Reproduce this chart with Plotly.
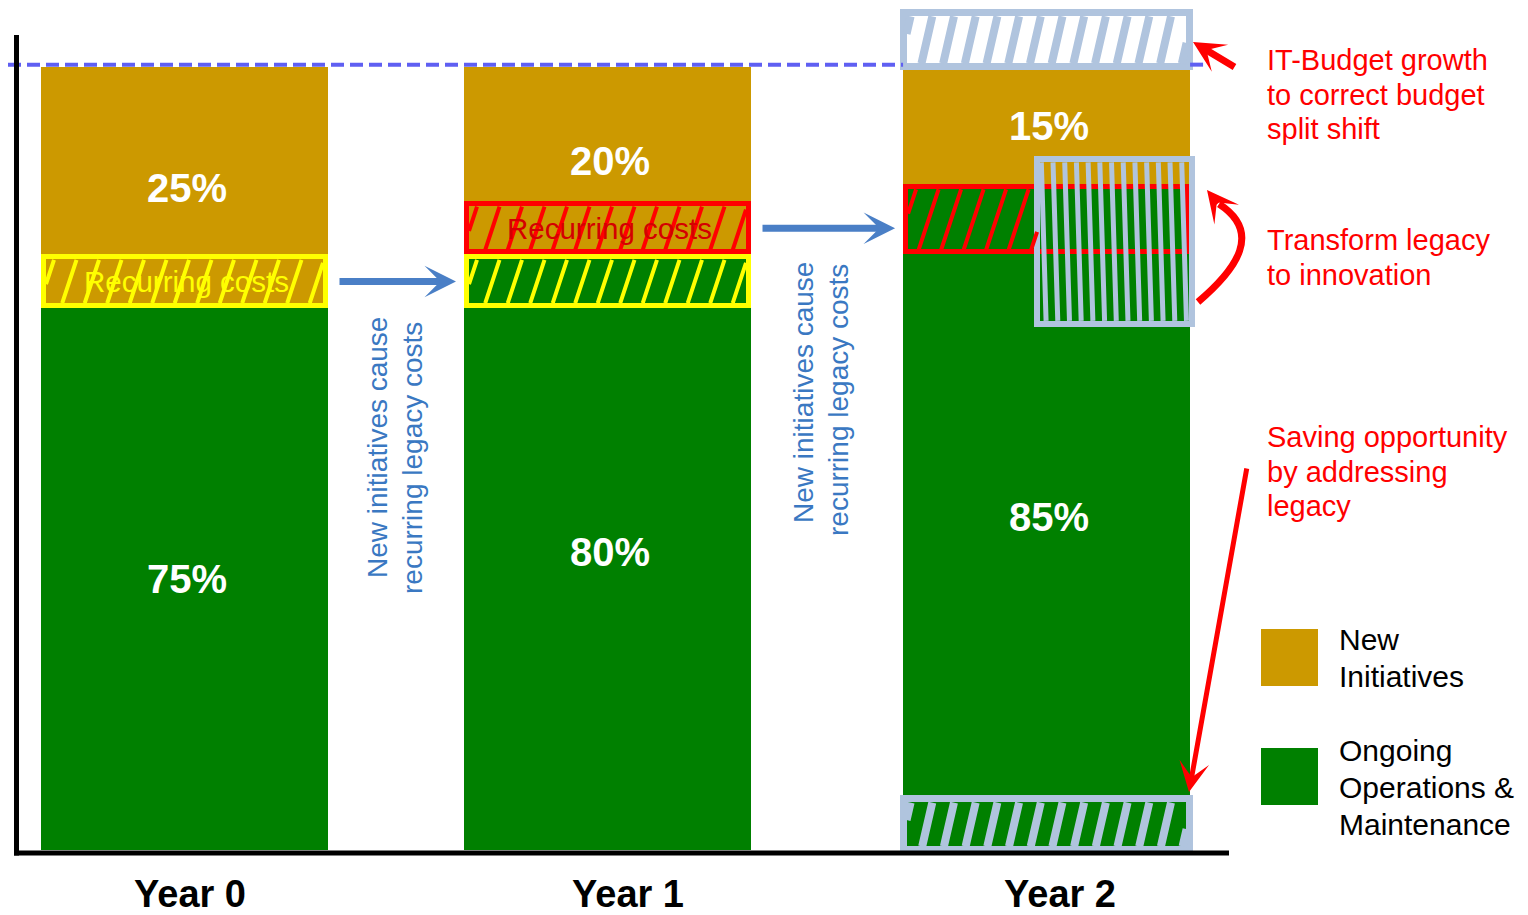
import plotly.graph_objects as go

# ---- data ----------------------------------------------------------------
years = ["Year 0", "Year 1", "Year 2"]
ops_share = [75, 80, 85]      # Ongoing Operations & Maintenance (%)
new_share = [25, 20, 15]      # New Initiatives (%)

# hatched "recurring costs" slices: bar index, bottom, top, budget part it sits in
slice_bar = [0, 1, 1, 2]
slice_low = [69.2, 69.2, 76.0, 76.0]
slice_high = [76.0, 76.0, 82.8, 85.0]
slice_part = ["new", "ops", "new", "ops"]
slice_label = ["Recurring costs", "", "Recurring costs", ""]

budget_growth = 6.9                  # extra budget on top of Year 2
legacy_saving = 6.5                  # saving at the bottom of Year 2
transform_low, transform_high = 67.2, 88.2   # legacy turned into innovation

# ---- styling / layout ----------------------------------------------------
W, H = 1528, 915
GOLD, GREEN = "#cc9900", "#008000"
RED, YELLOW = "#ff0000", "#ffff00"
STEEL = "#b0c4de"
BLUE_TXT, BLUE_ARROW = "#3a78c2", "#4a7fc6"
DASH_BLUE = "#5f5ff2"
FONT = "Liberation Sans, Arial, sans-serif"

X_ORIGIN, X_UNIT = 184.5, 423.0      # pixel of x=0, pixels per x unit
Y_ORIGIN, Y_UNIT = 850.0, 7.83       # pixel of y=0, pixels per y unit
bar_pos = [0.0, 1.0, 2.038]
BAR_W = 287 / X_UNIT
year_label_x = [0.013, 1.049, 2.07]

slice_edge = [YELLOW, YELLOW, RED, RED]
slice_text_color = [YELLOW, None, "#d40000", None]
SLICE_LW = 5
BOX_LW = 7
TRANSFORM_W = 155 / X_UNIT


def px_x(x):
    return X_ORIGIN + X_UNIT * x


def px_y(y):
    return Y_ORIGIN - Y_UNIT * y


def dx(p):
    return (p - X_ORIGIN) / X_UNIT


def dy(p):
    return (Y_ORIGIN - p) / Y_UNIT


def paper(xp, yp):
    return xp / W, 1 - yp / H


def stripes(x0, x1, y0, y1, spacing, slant, phase=0.0):
    """Hatch lines clipped to a data-space rectangle.
    spacing in pixels, slant = horizontal shift per pixel of height."""
    L, R = px_x(x0), px_x(x1)
    B, T = px_y(y0), px_y(y1)
    h = B - T
    s = slant * h
    parts = []
    xb = L - max(s, 0) + phase
    end = R - min(s, 0)
    while xb <= end:
        if s == 0:
            ta, tb = (0.0, 1.0) if L <= xb <= R else (1.0, 0.0)
        else:
            ta, tb = sorted(((L - xb) / s, (R - xb) / s))
            ta, tb = max(ta, 0.0), min(tb, 1.0)
        if tb - ta > 1e-3:
            xa, ya = xb + s * ta, B - h * ta
            xc, yc = xb + s * tb, B - h * tb
            parts.append(f"M{dx(xa):.5f},{dy(ya):.4f}L{dx(xc):.5f},{dy(yc):.4f}")
        xb += spacing
    return "".join(parts)


fig = go.Figure()
shapes = []
annotations = []

# ---- stacked budget bars -------------------------------------------------
fig.add_bar(x=bar_pos, y=ops_share, base=[0] * 3, width=BAR_W,
            marker=dict(color=GREEN, line=dict(width=0)),
            name="Ongoing Operations & Maintenance", showlegend=False)
fig.add_bar(x=bar_pos, y=new_share, base=ops_share, width=BAR_W,
            marker=dict(color=GOLD, line=dict(width=0)),
            name="New Initiatives", showlegend=False)

# ---- recurring-cost slices -----------------------------------------------
transform_left = bar_pos[2] + BAR_W / 2 + 2 / X_UNIT - TRANSFORM_W
for i, b in enumerate(slice_bar):
    fill = GOLD if slice_part[i] == "new" else GREEN
    lo, hi = slice_low[i], slice_high[i]
    ins_y = SLICE_LW / 2 / Y_UNIT
    ins_x = SLICE_LW / 2 / X_UNIT
    fig.add_bar(x=[bar_pos[b]], base=[lo + ins_y], y=[hi - lo - 2 * ins_y],
                width=BAR_W - 2 * ins_x,
                marker=dict(color=fill, line=dict(color=slice_edge[i], width=SLICE_LW)),
                showlegend=False, hoverinfo="skip")
    x0 = bar_pos[b] - BAR_W / 2 + 2 * ins_x
    x1 = bar_pos[b] + BAR_W / 2 - 2 * ins_x
    if b == 2:
        x1 = min(x1, transform_left)
    shapes.append(dict(type="path", xref="x", yref="y", layer="above",
                       path=stripes(x0, x1, lo + 2 * ins_y, hi - 2 * ins_y, 22.5, 0.33, 8),
                       line=dict(color=slice_edge[i], width=4)))
    if slice_label[i]:
        annotations.append(dict(x=bar_pos[b] + 2 / X_UNIT, y=(lo + hi) / 2, xref="x", yref="y",
                                text=slice_label[i], showarrow=False,
                                xanchor="center", yanchor="middle",
                                font=dict(family=FONT, size=29.5, color=slice_text_color[i])))

# ---- Year 2 scenario boxes -----------------------------------------------
box_in_y = BOX_LW / 2 / Y_UNIT
box_in_x = BOX_LW / 2 / X_UNIT
# budget growth on top
fig.add_bar(x=[bar_pos[2]], base=[100.0], y=[budget_growth], width=BAR_W - 1 / X_UNIT,
            marker=dict(color="white", line=dict(color=STEEL, width=BOX_LW)),
            showlegend=False, hoverinfo="skip")
# saving at the bottom
fig.add_bar(x=[bar_pos[2]], base=[0.0], y=[legacy_saving], width=BAR_W - 1 / X_UNIT,
            marker=dict(color=GREEN, line=dict(color=STEEL, width=BOX_LW)),
            showlegend=False, hoverinfo="skip")
# legacy transformed into innovation
fig.add_bar(x=[transform_left + TRANSFORM_W / 2], base=[transform_low],
            y=[transform_high - transform_low], width=TRANSFORM_W,
            marker=dict(color="rgba(0,0,0,0)", line=dict(color=STEEL, width=6)),
            showlegend=False, hoverinfo="skip")

gx0 = bar_pos[2] - BAR_W / 2 + box_in_x
gx1 = bar_pos[2] + BAR_W / 2 - box_in_x
shapes.append(dict(type="path", xref="x", yref="y", layer="above",
                   path=stripes(gx0, gx1, 100 + box_in_y, 100 + budget_growth - box_in_y, 21.7, 0.23, 4),
                   line=dict(color=STEEL, width=8)))
shapes.append(dict(type="path", xref="x", yref="y", layer="above",
                   path=stripes(gx0, gx1, box_in_y, legacy_saving - box_in_y, 21.7, 0.23, 4),
                   line=dict(color=STEEL, width=8)))
shapes.append(dict(type="path", xref="x", yref="y", layer="above",
                   path=stripes(transform_left + 3 / X_UNIT, transform_left + TRANSFORM_W - 3 / X_UNIT,
                                transform_low + 3 / Y_UNIT, transform_high - 3 / Y_UNIT, 11.7, -0.03, 6),
                   line=dict(color=STEEL, width=5)))

# ---- budget ceiling (dashed) ---------------------------------------------
for xa, xb in [(dx(8), gx0 - box_in_x), (gx1 + box_in_x, dx(1206))]:
    shapes.append(dict(type="line", xref="x", yref="y", layer="above",
                       x0=xa, x1=xb, y0=100.3, y1=100.3,
                       line=dict(color=DASH_BLUE, width=4, dash="13px,6px")))

# ---- axis lines ----------------------------------------------------------
shapes.append(dict(type="line", xref="x", yref="y", layer="above",
                   x0=dx(16.5), x1=dx(16.5), y0=dy(35), y1=dy(855.5),
                   line=dict(color="black", width=5)))
shapes.append(dict(type="line", xref="x", yref="y", layer="above",
                   x0=dx(14), x1=dx(1229), y0=dy(853), y1=dy(853),
                   line=dict(color="black", width=5)))

# ---- value labels --------------------------------------------------------
for b in range(3):
    gold_start = min([ops_share[b]] + [slice_low[i] for i in range(len(slice_bar))
                                       if slice_bar[i] == b and slice_part[i] == "new"])
    total = ops_share[b] + new_share[b]
    annotations.append(dict(x=bar_pos[b] + 2 / X_UNIT, y=gold_start / 2, xref="x", yref="y",
                            text=f"{ops_share[b]}%", showarrow=False,
                            xanchor="center", yanchor="middle",
                            font=dict(family=FONT, size=40, color="white", weight="bold")))
    annotations.append(dict(x=bar_pos[b] + 2 / X_UNIT, y=(gold_start + total) / 2, xref="x", yref="y",
                            text=f"{new_share[b]}%", showarrow=False,
                            xanchor="center", yanchor="middle",
                            font=dict(family=FONT, size=40, color="white", weight="bold")))
    _, ya = paper(0, 894)
    annotations.append(dict(x=year_label_x[b], y=ya, xref="x", yref="paper",
                            text=years[b], showarrow=False,
                            xanchor="center", yanchor="middle",
                            font=dict(family=FONT, size=38, color="black", weight="bold")))

# ---- blue carry-over arrows and captions ---------------------------------
carry = [(0, 0), (1, 2)]   # (from bar, slice index of arrow height)
for b, si in carry:
    ymid = (slice_low[si] + slice_high[si]) / 2
    x_tail = bar_pos[b] + BAR_W / 2 + 10 / X_UNIT
    x_tip = bar_pos[b + 1] - BAR_W / 2 - 8 / X_UNIT
    annotations.append(dict(x=x_tip, y=ymid, ax=x_tail, ay=ymid, xref="x", yref="y",
                            axref="x", ayref="y", text="", showarrow=True,
                            arrowhead=3, arrowsize=0.75, arrowwidth=7,
                            arrowcolor=BLUE_ARROW, standoff=0))

caption = ["New initiatives cause", "recurring legacy costs"]
caption_pos = [[(377, 448), (413, 458)], [(803, 392), (838, 400)]]
for pos in caption_pos:
    for line, (xp, yp) in zip(caption, pos):
        px, py = paper(xp, yp)
        annotations.append(dict(x=px, y=py, xref="paper", yref="paper", text=line,
                                textangle=-90, showarrow=False, xanchor="center", yanchor="middle",
                                font=dict(family=FONT, size=28, color=BLUE_TXT)))

# ---- red call-outs -------------------------------------------------------
callouts = [
    (["IT-Budget growth", "to correct budget", "split shift"], 60),
    (["Transform legacy", "to innovation"], 240),
    (["Saving opportunity", "by addressing", "legacy"], 437),
]
for lines, y_first in callouts:
    for j, line in enumerate(lines):
        px, py = paper(1265, y_first + 34.7 * j)
        annotations.append(dict(x=px, y=py, xref="paper", yref="paper", text=line,
                                showarrow=False, xanchor="left", yanchor="middle",
                                font=dict(family=FONT, size=29, color=RED)))


def red_arrow(tip, tail, width, size):
    tx, ty = paper(*tip)
    return dict(x=tx, y=ty, xref="paper", yref="paper", ax=tail[0] - tip[0], ay=tail[1] - tip[1],
                axref="pixel", ayref="pixel", text="", showarrow=True, arrowhead=3,
                arrowsize=size, arrowwidth=width, arrowcolor=RED, standoff=0)


annotations.append(red_arrow((1193, 42), (1236, 68), 7, 0.75))
annotations.append(red_arrow((1189, 792), (1247, 467), 5, 1.0))
annotations.append(red_arrow((1207, 190), (1219, 205), 7, 0.75))

# curved shaft for "Transform legacy"
pts = [(1198, 302), (1238, 268), (1262, 232), (1219, 204)]
pp = [paper(*p) for p in pts]
shapes.append(dict(type="path", xref="paper", yref="paper", layer="above",
                   path=f"M{pp[0][0]},{pp[0][1]} C{pp[1][0]},{pp[1][1]} {pp[2][0]},{pp[2][1]} {pp[3][0]},{pp[3][1]}",
                   line=dict(color=RED, width=7)))

# ---- legend --------------------------------------------------------------
legend_items = [("New Initiatives", GOLD, ["New", "Initiatives"], 629, 639),
                ("Ongoing Operations & Maintenance", GREEN, ["Ongoing", "Operations &", "Maintenance"], 748, 750)]
for _, color, lines, top, text_top in legend_items:
    x0, y0 = paper(1261, top)
    x1, y1 = paper(1318, top + 57)
    shapes.append(dict(type="rect", xref="paper", yref="paper", x0=x0, x1=x1, y0=y1, y1=y0,
                       fillcolor=color, line=dict(width=0), layer="above"))
    for j, line in enumerate(lines):
        px, py = paper(1337, text_top + 37 * j)
        annotations.append(dict(x=px, y=py, xref="paper", yref="paper", text=line,
                                showarrow=False, xanchor="left", yanchor="middle",
                                font=dict(family=FONT, size=30, color="black")))

fig.update_layout(
    width=W, height=H, autosize=False,
    margin=dict(l=0, r=0, t=0, b=0, pad=0),
    paper_bgcolor="white", plot_bgcolor="white",
    barmode="overlay", bargap=0,
    showlegend=False,
    xaxis=dict(range=[dx(0), dx(W)], visible=False, fixedrange=True),
    yaxis=dict(range=[dy(H), dy(0)], visible=False, fixedrange=True),
    shapes=shapes, annotations=annotations,
    font=dict(family=FONT),
)

fig.write_html("out.html")
